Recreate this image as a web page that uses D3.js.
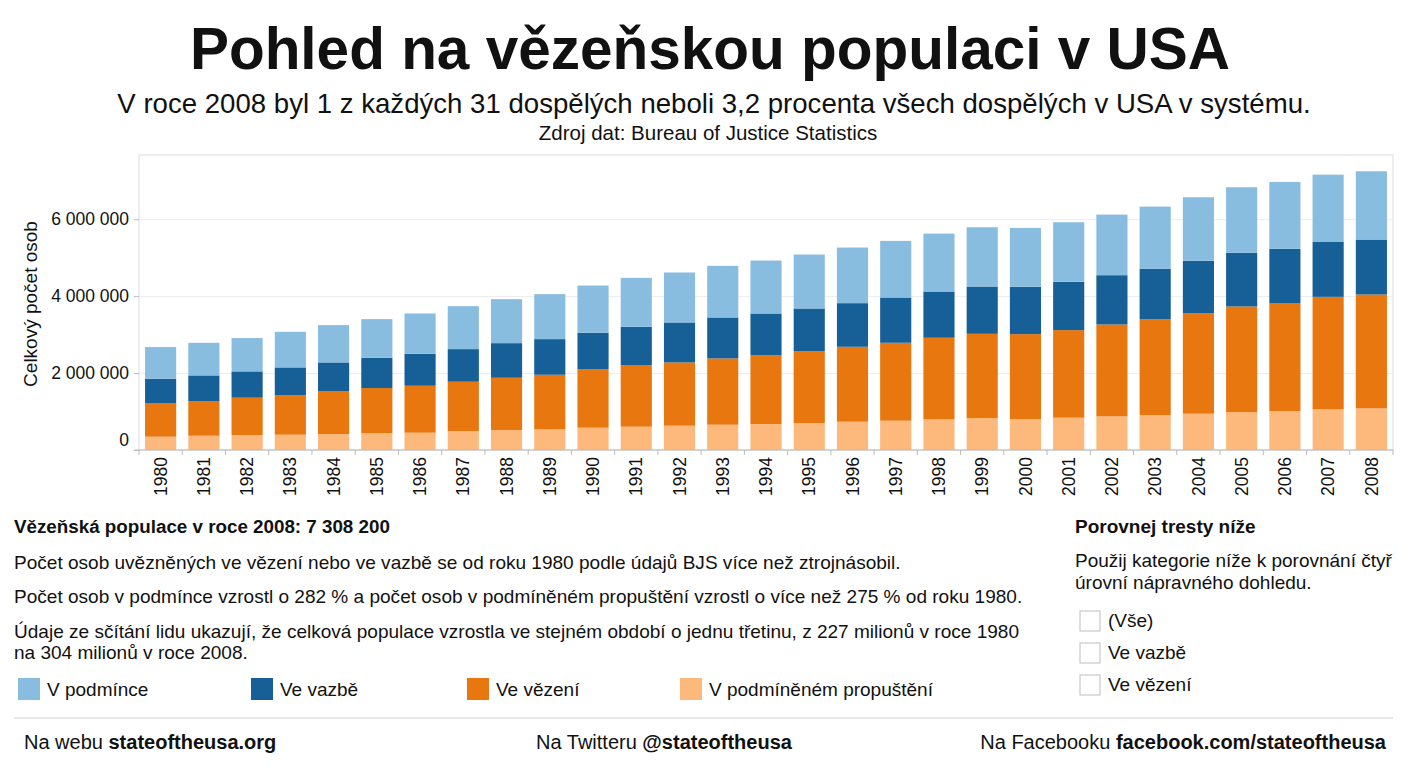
<!DOCTYPE html>
<html>
<head>
<meta charset="utf-8">
<script src="https://cdn.jsdelivr.net/npm/d3@7"></script>
<style>
  body { margin: 0; background: #fff; }
  svg text { font-family: "Liberation Sans", Arial, sans-serif; fill: #111; }
</style>
</head>
<body>
<div id="chart"></div>
<script>
// Data (persons)
var years = ["1980","1981","1982","1983","1984","1985","1986","1987","1988","1989",
             "1990","1991","1992","1993","1994","1995","1996","1997","1998","1999",
             "2000","2001","2002","2003","2004","2005","2006","2007","2008"];

var parole = [346000,372000,390000,398000,416000,442000,450000,494000,519000,537000,
              580000,606000,632000,658000,675000,701000,736000,762000,797000,831000,
              805000,840000,874000,909000,944000,987000,1013000,1056000,1082000];
var prison = [866000,900000,970000,1030000,1108000,1169000,1221000,1281000,1359000,1420000,
              1515000,1593000,1645000,1723000,1792000,1870000,1948000,2026000,2121000,2190000,
              2208000,2277000,2390000,2494000,2615000,2745000,2797000,2926000,2961000];
var jail = [641000,667000,684000,719000,753000,788000,831000,848000,900000,926000,
            952000,1004000,1039000,1065000,1082000,1108000,1134000,1177000,1203000,1229000,
            1229000,1255000,1281000,1307000,1359000,1394000,1420000,1437000,1429000];
var probation = [823000,848000,866000,926000,970000,1004000,1048000,1117000,1143000,1169000,
                 1229000,1273000,1299000,1342000,1377000,1403000,1446000,1472000,1506000,1541000,
                 1532000,1550000,1576000,1619000,1654000,1706000,1740000,1740000,1775000];

var seriesKeys = ["parole", "prison", "jail", "probation"];
var seriesNames = {parole: "V podmíněném propuštění", prison: "Ve vězení",
                   jail: "Ve vazbě", probation: "V podmínce"};
var colors = {parole: "#fdb87b", prison: "#e8770f", jail: "#175f97", probation: "#89bde0"};

var yTicks = [0, 2000000, 4000000, 6000000];

var rows = years.map(function(y, i) {
  return {year: y, parole: parole[i], prison: prison[i], jail: jail[i], probation: probation[i]};
});

var svgWidth = 1408, svgHeight = 768;
var margin = {top: 155, left: 139, right: 15, bottom: 318};
var width = svgWidth - margin.left - margin.right;
var height = svgHeight - margin.top - margin.bottom;

var svg = d3.select("#chart").append("svg")
  .attr("width", svgWidth)
  .attr("height", svgHeight);

// Titles
svg.append("text").attr("x", 710).attr("y", 69).attr("text-anchor", "middle")
  .style("font-size", "58.5px").style("font-weight", "bold")
  .text("Pohled na vězeňskou populaci v USA");
svg.append("text").attr("x", 714).attr("y", 113).attr("text-anchor", "middle")
  .style("font-size", "27.6px")
  .text("V roce 2008 byl 1 z každých 31 dospělých neboli 3,2 procenta všech dospělých v USA v systému.");
svg.append("text").attr("x", 708).attr("y", 140).attr("text-anchor", "middle")
  .style("font-size", "20.5px")
  .text("Zdroj dat: Bureau of Justice Statistics");

var chart = svg.append("g")
  .attr("transform", "translate(" + margin.left + "," + margin.top + ")");

var x = d3.scaleBand().domain(years).range([0, width])
  .paddingInner(0.28).paddingOuter(0.14);
var y = d3.scaleLinear().domain([0, 7670000]).range([height, 0]);

var locale = d3.formatLocale({decimal: ",", thousands: "\u00a0", grouping: [3], currency: ["", ""]});
var fmt = locale.format(",d");

// plot frame
chart.append("rect").attr("width", width).attr("height", height)
  .attr("fill", "none").attr("stroke", "#dcdcdc");

// gridlines
chart.append("g")
  .call(d3.axisLeft(y).tickValues(yTicks.slice(1)).tickSize(-width).tickFormat(""))
  .call(function(g) { g.select(".domain").remove(); })
  .selectAll("line").style("stroke", "#ececec");

// stacked bars
var stack = d3.stack().keys(seriesKeys);
var layers = stack(rows);

chart.selectAll(".layer")
  .data(layers)
  .enter().append("g")
    .attr("class", "layer")
    .attr("fill", function(d) { return colors[d.key]; })
  .selectAll("rect")
  .data(function(d) { return d; })
  .enter().append("rect")
    .attr("x", function(d) { return x(d.data.year); })
    .attr("y", function(d) { return y(d[1]); })
    .attr("height", function(d) { return y(d[0]) - y(d[1]); })
    .attr("width", x.bandwidth());

// y axis
var yAxis = chart.append("g")
  .call(d3.axisLeft(y).tickValues(yTicks).tickFormat(fmt).tickSize(5).tickPadding(5));
yAxis.select(".domain").remove();
yAxis.selectAll("line").style("stroke", "#bbb");
yAxis.selectAll("text").style("font-size", "17.5px")
  .attr("dy", function(d) { return d === 0 ? "-0.25em" : "0.32em"; });

// x axis line + ticks at band boundaries
chart.append("line").attr("x1", -5).attr("x2", width)
  .attr("y1", height).attr("y2", height).style("stroke", "#bbb");
chart.selectAll(".xb")
  .data(d3.range(years.length + 1))
  .enter().append("line")
    .attr("x1", function(i) { return i * x.step(); })
    .attr("x2", function(i) { return i * x.step(); })
    .attr("y1", height).attr("y2", height + 5)
    .style("stroke", "#bbb");

var xAxis = chart.append("g")
  .attr("transform", "translate(0," + height + ")")
  .call(d3.axisBottom(x).tickSize(0));
xAxis.select(".domain").remove();
xAxis.selectAll("text")
  .style("font-size", "17.5px")
  .style("text-anchor", "end")
  .attr("transform", "rotate(-90)")
  .attr("x", -7).attr("y", 0).attr("dy", "0.35em");

// y axis title
svg.append("text")
  .attr("transform", "translate(37," + 304 + ") rotate(-90)")
  .attr("text-anchor", "middle")
  .style("font-size", "19px")
  .text("Celkový počet osob");

// Description text
svg.append("text").attr("x", 14).attr("y", 533)
  .style("font-size", "18.8px").style("font-weight", "bold")
  .text("Vězeňská populace v roce 2008: 7 308 200");

var paras = [
  {t: "Počet osob uvězněných ve vězení nebo ve vazbě se od roku 1980 podle údajů BJS více než ztrojnásobil.", y: 569},
  {t: "Počet osob v podmínce vzrostl o 282 % a počet osob v podmíněném propuštění vzrostl o více než 275 % od roku 1980.", y: 603},
  {t: "Údaje ze sčítání lidu ukazují, že celková populace vzrostla ve stejném období o jednu třetinu, z 227 milionů v roce 1980", y: 638},
  {t: "na 304 milionů v roce 2008.", y: 659}
];
svg.selectAll(".para").data(paras).enter().append("text")
  .attr("x", 14).attr("y", function(d) { return d.y; })
  .style("font-size", "19.05px")
  .text(function(d) { return d.t; });

// Legend
var legendOrder = ["probation", "jail", "prison", "parole"];
var legendX = [18, 251, 467, 680];
var legend = svg.selectAll(".legend").data(legendOrder).enter().append("g")
  .attr("transform", function(d, i) { return "translate(" + legendX[i] + ",678)"; });
legend.append("rect").attr("width", 22).attr("height", 22)
  .attr("fill", function(d) { return colors[d]; });
legend.append("text").attr("x", 29).attr("y", 18)
  .style("font-size", "19px")
  .text(function(d) { return seriesNames[d]; });

// Right panel
svg.append("text").attr("x", 1075).attr("y", 533)
  .style("font-size", "19px").style("font-weight", "bold")
  .text("Porovnej tresty níže");
svg.append("text").attr("x", 1075).attr("y", 567)
  .style("font-size", "19px")
  .text("Použij kategorie níže k porovnání čtyř");
svg.append("text").attr("x", 1075).attr("y", 589)
  .style("font-size", "19px")
  .text("úrovní nápravného dohledu.");

var checks = ["(Vše)", "Ve vazbě", "Ve vězení"];
var cb = svg.selectAll(".cb").data(checks).enter().append("g")
  .attr("transform", function(d, i) { return "translate(1080," + (611 + i * 32) + ")"; });
cb.append("rect").attr("width", 20).attr("height", 20)
  .attr("fill", "#fff").attr("stroke", "#bdbdbd");
cb.append("text").attr("x", 28).attr("y", 16)
  .style("font-size", "19px")
  .text(function(d) { return d; });

// Footer
svg.append("line").attr("x1", 14).attr("x2", 1393).attr("y1", 718).attr("y2", 718)
  .style("stroke", "#d0d0d0");

var footer = [
  {a: "Na webu ", b: "stateoftheusa.org", x: 24, anchor: "start"},
  {a: "Na Twitteru ", b: "@stateoftheusa", x: 536, anchor: "start"},
  {a: "Na Facebooku ", b: "facebook.com/stateoftheusa", x: 1386, anchor: "end"}
];
footer.forEach(function(f) {
  var t = svg.append("text").attr("x", f.x).attr("y", 749)
    .attr("text-anchor", f.anchor).style("font-size", "20px");
  t.append("tspan").text(f.a);
  t.append("tspan").style("font-weight", "bold").text(f.b);
});
</script>
</body>
</html>
